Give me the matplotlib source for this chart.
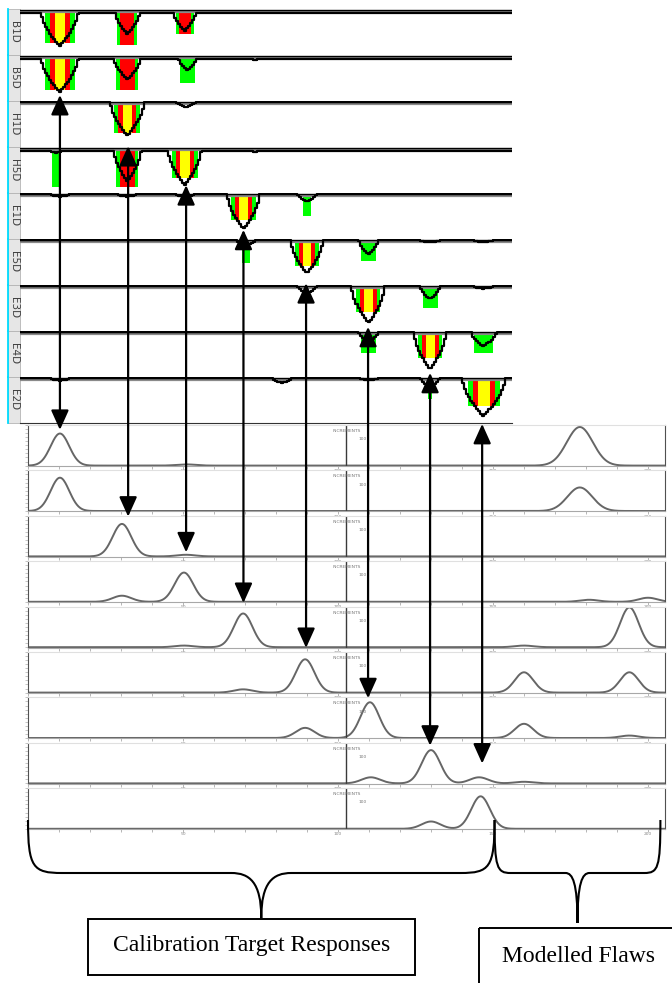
import numpy as np
import matplotlib.pyplot as plt
from matplotlib.patches import ConnectionPatch, Rectangle, PathPatch
from matplotlib.path import Path

# channel strips (top) - dips in increments
channels = ['B1D', 'B5D', 'H1D', 'H5D', 'E1D', 'E5D', 'E3D', 'E4D', 'E2D']

dipPos = [
    [10.3, 32.0, 50.6, 71.0],
    [10.3, 32.0, 51.5, 73.0],
    [32.0, 51.0],
    [9.1, 32.0, 50.6, 73.0],
    [10.3, 32.0, 50.6, 69.4, 90.0],
    [70.3, 90.0, 109.7, 129.7, 147.0],
    [90.0, 109.7, 129.7, 147.0],
    [109.7, 129.7, 147.0],
    [10.3, 82.0, 109.7, 129.7, 147.0],
]
dipDepth = [
    [0.78, 0.52, 0.45, 0.06],
    [0.78, 0.50, 0.30, 0.08],
    [0.72, 0.10],
    [0.10, 0.72, 0.80, 0.08],
    [0.05, 0.05, 0.05, 0.75, 0.15],
    [0.10, 0.72, 0.30, 0.04, 0.04],
    [0.15, 0.80, 0.28, 0.05],
    [0.20, 0.80, 0.30],
    [0.05, 0.10, 0.04, 0.20, 0.82],
]
barDepth = [
    [0.72, 0.75, 0.52, 0],
    [0.72, 0.72, 0.58, 0],
    [0.67, 0],
    [0.83, 0.85, 0.65, 0],
    [0, 0, 0, 0.55, 0.48],
    [0.50, 0.55, 0.45, 0, 0],
    [0, 0.55, 0.48, 0],
    [0.45, 0.55, 0.45],
    [0, 0, 0, 0.45, 0.60],
]
# 0 none, 1 green, 2 green+red, 3 green+red+yellow
barLevel = [
    [3, 2, 2, 0],
    [3, 2, 1, 0],
    [3, 0],
    [1, 2, 3, 0],
    [0, 0, 0, 3, 1],
    [1, 3, 1, 0, 0],
    [0, 3, 1, 0],
    [1, 3, 1],
    [0, 0, 0, 1, 3],
]
barHalfWidth = [
    [4.7, 3.2, 2.9, 0],
    [4.7, 3.5, 2.4, 0],
    [4.2, 0],
    [1.2, 3.5, 4.2, 0],
    [0, 0, 0, 4.0, 1.2],
    [1.3, 4.0, 2.4, 0, 0],
    [0, 4.0, 2.4, 0],
    [2.4, 4.0, 3.0],
    [0, 0, 0, 0.6, 5.2],
]
stripBase = [0.06, 0.06, 0.0, 0.05, 0.0, 0.0, 0.0, 0.0, 0.0]

# calibration responses (bottom) - peaks per row
peakPos = [
    [10.3, 51.0, 178.0],
    [10.3, 178.0],
    [30.3, 51.0],
    [30.3, 50.3, 181.0, 200.0],
    [50.3, 69.4, 160.0, 194.0],
    [69.4, 89.4, 160.0, 194.0],
    [89.4, 110.3, 160.0, 194.0],
    [110.6, 130.0, 145.5, 160.0],
    [130.0, 146.0],
]
peakAmp = [
    [0.79, 0.03, 0.95],
    [0.82, 0.58],
    [0.80, 0.04],
    [0.15, 0.72, 0.05, 0.10],
    [0.04, 0.83, 0.04, 0.98],
    [0.08, 0.82, 0.50, 0.50],
    [0.25, 0.88, 0.35, 0.06],
    [0.15, 0.82, 0.15, 0.04],
    [0.18, 0.80],
]
peakWidth = [
    [3.0, 3.0, 4.2],
    [3.0, 4.0],
    [3.0, 3.0],
    [3.0, 3.0, 3.0, 3.0],
    [3.0, 3.0, 3.0, 3.0],
    [3.0, 3.0, 3.0, 3.0],
    [3.0, 3.0, 3.0, 3.0],
    [3.0, 3.0, 3.0, 3.0],
    [3.0, 3.0],
]
tickLabels = ['50', '100', '150', '200']

# arrows linking strip dips to response peaks
arrowPos = [10.3, 32.3, 51.0, 69.5, 89.7, 109.7, 129.7, 146.5]
arrowStrip = [1, 2, 3, 4, 5, 6, 7, 8]
arrowStripY = [-0.84, -0.95, -0.80, -0.77, -0.93, -0.88, -0.88, -0.99]
arrowRow = [0, 2, 2, 4, 5, 6, 7, 7]
arrowRowY = [0.88, 0.98, 0.10, 1.09, 1.10, 0.98, 0.93, 0.49]

# layout in pixels
W, H = 672, 983
PX = 3.1
STRIP_X0, STRIP_X1, STRIP_TOP, STRIP_H = 20, 512, 9, 46
ROW_X0, ROW_X1, ROW_TOP, ROW_STEP, ROW_H = 28, 665, 425, 45.4, 41


def rect(x0, top, w, h):
    return [x0 / W, 1 - (top + h) / H, w / W, h / H]


fig = plt.figure(figsize=(W / 100, H / 100), dpi=100)

# ---- top strips ----
stripAxes = []
sx0 = (STRIP_X0 - ROW_X0) / PX
sx1 = (STRIP_X1 - ROW_X0) / PX
cell = 12 / (STRIP_X1 - STRIP_X0)
for i, name in enumerate(channels):
    ax = fig.add_axes(rect(STRIP_X0, STRIP_TOP + i * STRIP_H, STRIP_X1 - STRIP_X0, STRIP_H))
    ax.set_xlim(sx0, sx1)
    ax.set_ylim(-0.97, 0.03)
    for s in ax.spines.values():
        s.set_visible(False)
    if i == len(channels) - 1:
        ax.spines['bottom'].set_visible(True)
        ax.spines['bottom'].set_color('#333333')
    ax.set_xticks([])
    ax.set_yticks([])

    x = np.arange(sx0, sx1, 0.65)
    depth = np.full_like(x, stripBase[i])
    for p, d, bd, lv, g in zip(dipPos[i], dipDepth[i], barDepth[i], barLevel[i], barHalfWidth[i]):
        hw = max(1.3 * g, 3.0)
        s = np.clip(1 - np.abs(x - p) / hw, 0, 1)
        depth = np.maximum(depth, d * s ** 0.6)
        if lv >= 1:
            ax.bar(p, -bd, width=2 * g, bottom=0, color='#00FF00', linewidth=0, zorder=1)
        if lv >= 2:
            ax.bar(p, -bd, width=2 * 0.68 * g, bottom=0, color='#FF0000', linewidth=0, zorder=1)
        if lv >= 3:
            ax.bar(p, -bd, width=2 * 0.36 * g, bottom=0, color='#FFFF00', linewidth=0, zorder=1)

    ax.axhline(-0.035, color='#8a8a8a', lw=1.6, zorder=2)
    ax.axhline(0.0, color='black', lw=1.0, zorder=2)
    ax.plot(x, -depth, color='black', lw=1.6, drawstyle='steps-mid', zorder=3)

    # channel label cell
    ax.add_patch(Rectangle((-cell, 0), cell, 1, transform=ax.transAxes, clip_on=False,
                           facecolor='#E6E6E6', edgecolor='#B4B4B4', lw=0.6))
    ax.plot([-cell, -cell], [0, 1], transform=ax.transAxes, color='#00DDFF', lw=1.3, clip_on=False)
    ax.text(-cell / 2, 0.5, name, transform=ax.transAxes, rotation=-90, ha='center', va='center',
            fontsize=7.5, color='#404040')
    stripAxes.append(ax)

# ---- bottom responses ----
rowAxes = []
rx1 = (ROW_X1 - ROW_X0) / PX
xs = np.arange(0, rx1, 0.25)
for j in range(len(peakPos)):
    ax = fig.add_axes(rect(ROW_X0, ROW_TOP + j * ROW_STEP, ROW_X1 - ROW_X0, ROW_H))
    ys = np.zeros_like(xs)
    for p, a, w in zip(peakPos[j], peakAmp[j], peakWidth[j]):
        ys += a * np.exp(-0.5 * ((xs - p) / w) ** 2)
    ax.plot(xs, ys, color='#666666', lw=1.4)
    ax.set_xlim(0, rx1)
    ax.set_ylim(-0.01, 1.0)
    ax.axvline(102.6, color='#3a3a3a', lw=1.0)
    ax.spines['left'].set_color('#505050')
    ax.spines['right'].set_color('#505050')
    ax.spines['bottom'].set_color('#a8a8a8')
    ax.spines['top'].set_color('#e0e0e0')
    for s in ax.spines.values():
        s.set_linewidth(0.8)
    ticks = np.arange(0, 201, 10)
    ax.set_xticks(ticks)
    ax.set_xticklabels([str(t) if str(t) in tickLabels else '' for t in ticks])
    ax.tick_params(axis='x', length=2, width=0.5, color='#999999', labelsize=3.2,
                   labelcolor='#888888', pad=0.3)
    ax.set_yticks(np.linspace(0, 1, 11))
    ax.set_yticklabels([])
    ax.tick_params(axis='y', length=2, width=0.4, color='#999999')
    ax.text(103, 0.90, 'INCREMENTS', fontsize=3.2, color='#777777', ha='center', va='top')
    ax.text(108, 0.70, '100', fontsize=3.2, color='#777777', ha='center', va='top')
    rowAxes.append(ax)

# ---- arrows ----
for p, si, sy, ri, ry in zip(arrowPos, arrowStrip, arrowStripY, arrowRow, arrowRowY):
    con = ConnectionPatch(xyA=(p, sy), coordsA=stripAxes[si].transData,
                          xyB=(p, ry), coordsB=rowAxes[ri].transData,
                          arrowstyle='<|-|>,head_length=0.6,head_width=0.27',
                          mutation_scale=20, color='black', lw=1.6)
    con.set_zorder(5)
    fig.add_artist(con)

# ---- braces and boxes ----
ov = fig.add_axes([0, 0, 1, 1], zorder=10)
ov.set_xlim(0, W)
ov.set_ylim(H, 0)
ov.axis('off')


def toPx(u):
    return rowAxes[-1].transData.transform((u, 0))[0]


def brace(x0, x1, yTop, yMid, yTip, r, r2):
    xm = (x0 + x1) / 2
    dv = yMid - yTop
    dt = yTip - yMid
    verts = [(x0, yTop),
             (x0, yTop + 0.9 * dv), (x0 + 0.15 * r, yMid), (x0 + r, yMid),
             (xm - r2, yMid),
             (xm - 0.4 * r2, yMid), (xm, yMid + 0.2 * dt), (xm, yTip),
             (xm, yMid + 0.2 * dt), (xm + 0.4 * r2, yMid), (xm + r2, yMid),
             (x1 - r, yMid),
             (x1 - 0.15 * r, yMid), (x1, yTop + 0.9 * dv), (x1, yTop)]
    codes = [Path.MOVETO, Path.CURVE4, Path.CURVE4, Path.CURVE4, Path.LINETO,
             Path.CURVE4, Path.CURVE4, Path.CURVE4, Path.CURVE4, Path.CURVE4, Path.CURVE4,
             Path.LINETO, Path.CURVE4, Path.CURVE4, Path.CURVE4]
    return PathPatch(Path(verts, codes), fill=False, lw=1.5, edgecolor='black')


ov.add_patch(brace(toPx(0), toPx(150.5), 820, 873, 918, 34, 30))
ov.add_patch(brace(toPx(150.5), toPx(204.0), 820, 873, 923, 16, 12))

ov.add_patch(Rectangle((88, 918.5), 327, 56.5, fill=False, lw=1.4, edgecolor='black'))
ov.text(251.5, 945, 'Calibration Target Responses', ha='center', va='center',
        fontsize=17, family='Liberation Serif')
ov.add_patch(Rectangle((479, 928), 210, 70, fill=False, lw=1.4, edgecolor='black', clip_on=False))
ov.text(578, 956, 'Modelled Flaws', ha='center', va='center',
        fontsize=17, family='Liberation Serif')

plt.savefig('out.png', dpi=100)
